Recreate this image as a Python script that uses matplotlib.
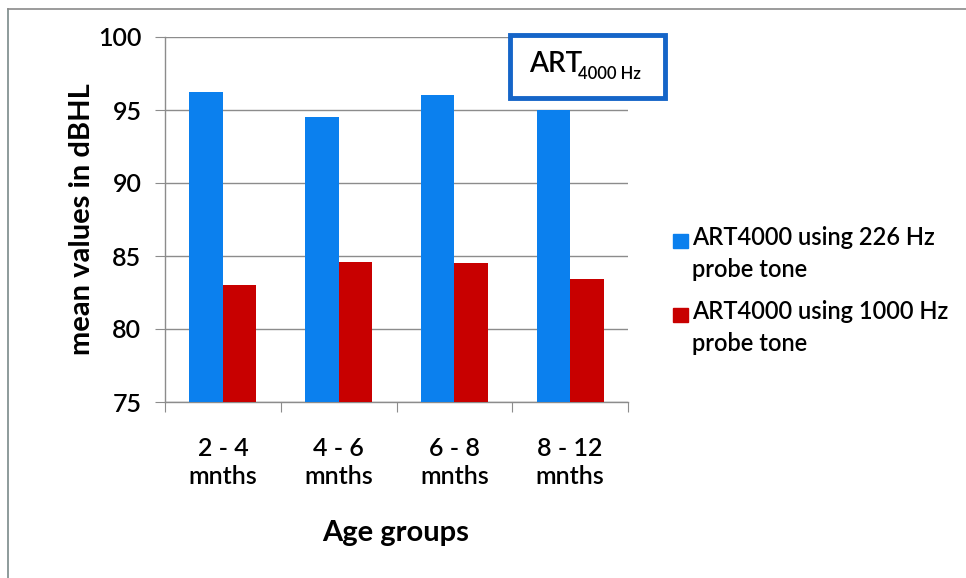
import numpy as np
import matplotlib
matplotlib.use("Agg")
import matplotlib.pyplot as plt
from matplotlib.patches import Rectangle
from matplotlib.lines import Line2D

plt.rcParams['font.family'] = ['Lato', 'DejaVu Sans']
plt.rcParams['font.weight'] = 'semibold'

###### data ######
groups = ["2 - 4\nmnths", "4 - 6\nmnths", "6 - 8\nmnths", "8 - 12\nmnths"]
art_226 = [96.2, 94.5, 96.0, 95.0]
art_1000 = [83.0, 84.6, 84.5, 83.4]
labels = ["ART4000 using 226 Hz\nprobe tone", "ART4000 using 1000 Hz\nprobe tone"]
yticks = [75, 80, 85, 90, 95, 100]

blue = "#0B80EE"
red = "#C80000"
grid_c = "#8c8c8c"

W, H = 966, 578
fig = plt.figure(figsize=(W / 100, H / 100), dpi=100)
ax = fig.add_axes([165 / W, 1 - 402 / H, (628 - 165) / W, (402 - 37) / H])

x = np.arange(len(groups))
bw = 0.29
ax.bar(x - bw / 2, art_226, bw, color=blue, zorder=3)
ax.bar(x + bw / 2, art_1000, bw, color=red, zorder=3)

ax.set_ylim(75, 100)
ax.set_xlim(-0.5, len(groups) - 0.5)
ax.set_yticks(yticks)
ax.set_yticklabels([str(v) for v in yticks], fontsize=18)
ax.yaxis.grid(True, color=grid_c, lw=1.0, zorder=0)

# category ticks on boundaries, labels in the middle
ax.set_xticks(np.arange(-0.5, len(groups)), minor=False)
ax.set_xticklabels([])
ax.set_xticks(x, minor=True)
ax.set_xticklabels(groups, minor=True, fontsize=18, linespacing=1.3)
ax.tick_params(axis='x', which='minor', length=0, pad=25)
ax.tick_params(axis='x', which='major', length=7, color=grid_c, direction='out')
ax.tick_params(axis='y', length=7, color=grid_c, direction='out', pad=10)

for s in ['top', 'right']:
    ax.spines[s].set_visible(False)
for s in ['left', 'bottom']:
    ax.spines[s].set_color(grid_c)
    ax.spines[s].set_linewidth(1.0)

ax.set_ylabel("mean values in dBHL", fontsize=21, fontweight='bold', labelpad=2)
fig.text(396 / W, 1 - 533 / H, "Age groups", fontsize=21, fontweight='bold',
         ha='center', va='center')

# legend drawn by hand so the square sits on the first line
for i, (lab, c) in enumerate(zip(labels, [blue, red])):
    ytop = 236 + i * 74
    fig.patches.append(Rectangle((673 / W, 1 - (ytop + 12) / H), 15 / W, 14 / H,
                                 transform=fig.transFigure, color=c))
    fig.text(692 / W, 1 - (ytop - 10) / H, lab, fontsize=17, va='top', ha='left',
             linespacing=1.45)

# ART box
fig.patches.append(Rectangle((510 / W, 1 - 98 / H), (665 - 510) / W, (98 - 35) / H,
                             transform=fig.transFigure, facecolor='white',
                             edgecolor="#1565C8", lw=3.5, zorder=5))
fig.text(529 / W, 1 - 72 / H, "ART", fontsize=20, ha='left', va='baseline', zorder=6)
fig.text(578 / W, 1 - 79 / H, "4000 Hz", fontsize=12, ha='left', va='baseline', zorder=6)

# outer frame (left and top edges)
fig.lines.append(Line2D([8 / W, 8 / W], [0, 1 - 9 / H], transform=fig.transFigure,
                        color="#7a8a8a", lw=1.2))
fig.lines.append(Line2D([8 / W, 1], [1 - 9 / H, 1 - 9 / H], transform=fig.transFigure,
                        color="#8a8a8a", lw=1.2))

fig.savefig("out.png", dpi=100)
